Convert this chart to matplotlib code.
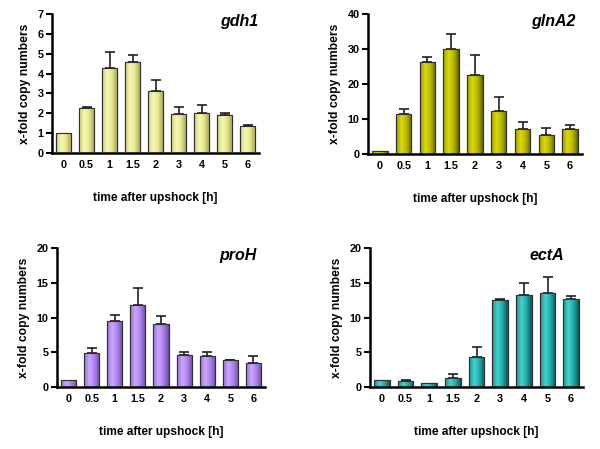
import numpy as np
import matplotlib
matplotlib.use("Agg")
from matplotlib import pyplot as plt
from matplotlib.colors import LinearSegmentedColormap

plt.rcParams['font.family'] = ['Liberation Sans', 'DejaVu Sans']
plt.rcParams['font.weight'] = 'bold'

times = ["0", "0.5", "1", "1.5", "2", "3", "4", "5", "6"]

gdh1 = [1.0, 2.25, 4.3, 4.6, 3.1, 1.95, 2.0, 1.9, 1.37]
gdh1_err = [0, 0.05, 0.8, 0.33, 0.6, 0.37, 0.42, 0.1, 0.04]

glnA2 = [0.95, 11.5, 26.4, 29.9, 22.7, 12.3, 7.2, 5.4, 7.2]
glnA2_err = [0, 1.5, 1.2, 4.5, 5.6, 4.0, 2.0, 2.0, 1.2]

proH = [0.95, 4.83, 9.47, 11.87, 9.0, 4.55, 4.4, 3.83, 3.45]
proH_err = [0, 0.75, 0.95, 2.45, 1.2, 0.43, 0.57, 0.08, 1.05]

ectA = [0.95, 0.9, 0.57, 1.24, 4.35, 12.58, 13.25, 13.6, 12.7]
ectA_err = [0, 0.15, 0, 0.63, 1.45, 0.05, 1.65, 2.2, 0.4]

panels = [
    ("gdh1", gdh1, gdh1_err, 7, 1, ["#c8c878", "#f8f8b8", "#e8e890", "#a8a860"],
     [0.0867, 0.6592, 0.345, 0.3096], 0.995),
    ("glnA2", glnA2, glnA2_err, 40, 10, ["#9a9a00", "#dada10", "#b8b800", "#606000"],
     [0.6133, 0.657, 0.3567, 0.3118], 0.97),
    ("proH", proH, proH_err, 20, 5, ["#9470d0", "#cca8ff", "#aa80ec", "#6c4c9c"],
     [0.095, 0.138, 0.3467, 0.3096], 0.96),
    ("ectA", ectA, ectA_err, 20, 5, ["#188c8c", "#48d4d4", "#22a8a8", "#0a5858"],
     [0.6167, 0.138, 0.355, 0.3096], 0.91),
]

fig = plt.figure(figsize=(6, 4.49), dpi=100)

for name, vals, errs, ymax, ystep, cols, pos, tx in panels:
    ax = fig.add_axes(pos)
    x = np.arange(len(times))
    bars = ax.bar(x, vals, width=0.65, color=cols[2], edgecolor="#303030",
                  linewidth=0.8, zorder=2)
    cmap = LinearSegmentedColormap.from_list(name, cols)
    grad = np.linspace(0, 1, 64).reshape(1, -1)
    for b in bars:
        im = ax.imshow(grad, extent=[b.get_x(), b.get_x() + b.get_width(), 0, b.get_height()],
                       aspect="auto", cmap=cmap, zorder=2.5, interpolation="bicubic")
        im.set_clip_path(b)
    for b in bars:
        ax.add_patch(plt.Rectangle((b.get_x(), 0), b.get_width(), b.get_height(),
                                   fill=False, edgecolor="#303030", linewidth=0.8, zorder=3))
    e = np.array(errs)
    m = e > 0
    ax.errorbar(x[m], np.array(vals)[m], yerr=[np.zeros(m.sum()), e[m]], fmt="none",
                ecolor="#202020", elinewidth=1.2, capsize=3.5, capthick=1.2, zorder=1.5)

    ax.set_xlim(-0.5, 8.5)
    ax.set_ylim(0, ymax)
    ax.set_yticks(np.arange(0, ymax + 1, ystep))
    ax.set_xticks(x)
    ax.set_xticklabels(times)
    ax.tick_params(axis="x", length=0, pad=5, labelsize=7.8)
    ax.tick_params(axis="y", length=4, width=1.5, pad=2, labelsize=7.8)
    for s in ["top", "right"]:
        ax.spines[s].set_visible(False)
    for s in ["left", "bottom"]:
        ax.spines[s].set_linewidth(1.8)
    ax.set_ylabel("x-fold copy numbers", fontsize=8.7, fontweight="bold", labelpad=5)
    ax.set_xlabel("time after upshock [h]", fontsize=8.6, fontweight="bold", labelpad=16)
    ax.text(tx, 1.0, name, transform=ax.transAxes, ha="right", va="top",
            fontsize=11.5, fontweight="bold", fontstyle="italic")

plt.savefig("out.png", dpi=100)
